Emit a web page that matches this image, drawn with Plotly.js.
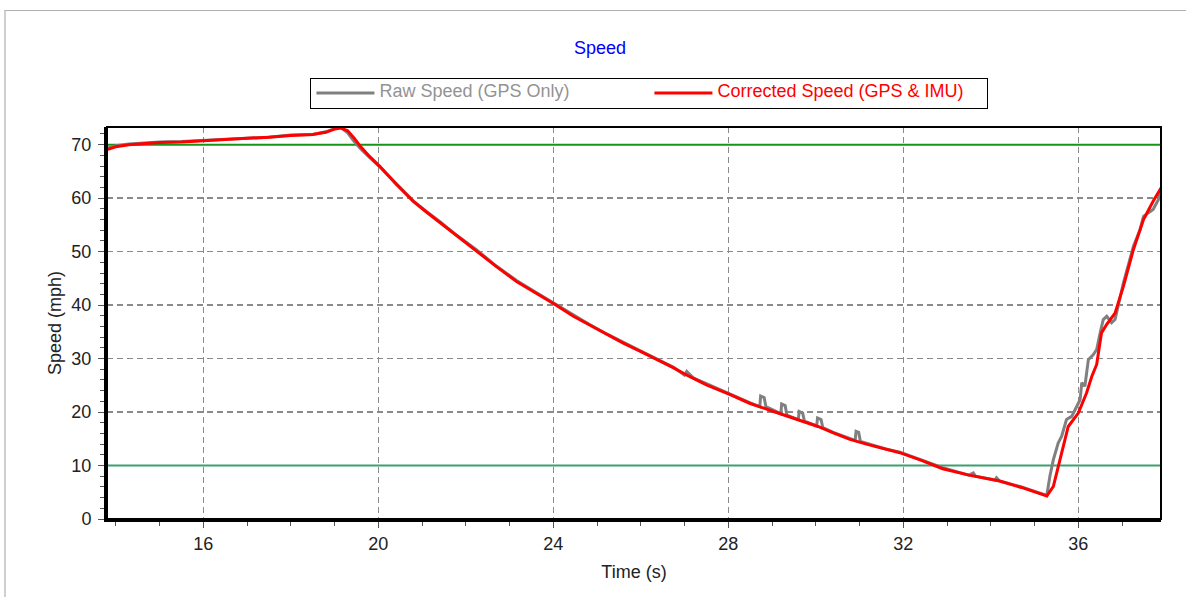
<!DOCTYPE html>
<html>
<head>
<meta charset="utf-8">
<script src="https://cdn.plot.ly/plotly-3.0.1.min.js"></script>
<style>
  html, body { margin: 0; padding: 0; background: #ffffff; }
  #wrap { position: relative; width: 1186px; height: 597px; }
  #chart { width: 1186px; height: 597px; }
  #frame { position: absolute; left: 4px; top: 10px; right: 0; bottom: 0;
           border-left: 2px solid #cfcfcf; border-top: 1px solid #b0b0b0; pointer-events: none; }
</style>
</head>
<body>
<div id="wrap"><div id="chart"></div><div id="frame"></div></div>
<script>
// Corrected speed (GPS & IMU)
const corrTime = [13.80,14.0,14.3,14.7,15.0,15.5,16.0,16.5,17.0,17.5,18.0,18.5,18.8,19.0,19.15,19.3,19.45,19.6,19.8,20.04,
  20.4,20.8,21.1,21.41,21.8,22.25,22.7,23.16,23.6,24.04,24.46,24.8,25.22,25.6,25.98,26.35,26.74,27.1,27.5,28.03,
  28.5,29.0,29.26,29.6,30.05,30.4,30.78,31.2,31.6,31.92,32.4,32.9,33.5,34.2,34.7,35.19,35.28,35.43,35.54,35.66,
  35.77,36.0,36.19,36.31,36.42,36.53,36.65,36.84,37.03,37.26,37.49,37.71,37.89];
const corrSpeed = [69.1,69.6,70.0,70.2,70.4,70.5,70.7,70.9,71.1,71.4,71.7,71.9,72.3,72.9,73.1,72.6,71.2,69.6,67.8,65.9,
  62.7,59.4,57.4,55.4,52.9,50.1,47.2,44.4,42.3,40.1,37.9,36.4,34.5,32.9,31.4,29.9,28.3,26.7,25.1,23.3,
  21.6,20.2,19.5,18.6,17.3,16.1,14.9,13.9,13.0,12.4,11.0,9.4,8.2,7.1,5.9,4.6,4.3,6.1,9.9,13.6,
  17.3,19.8,23.6,26.7,28.9,34.8,36.4,38.5,43.5,50.4,56.0,59.4,61.9];

// Raw speed (GPS only)
const rawTime = [13.80,14.0,14.3,14.7,15.0,15.5,16.0,16.5,17.0,17.5,18.0,18.5,18.8,19.0,19.15,19.3,19.45,19.6,19.8,20.04,
  20.4,20.8,21.1,21.41,21.8,22.25,22.7,23.16,23.6,24.04,24.46,24.8,25.22,25.6,25.98,26.35,26.74,27.0,27.05,27.2,
  27.5,28.03,28.5,28.72,28.74,28.82,28.86,29.2,29.22,29.3,29.34,29.6,29.62,29.7,29.74,30.02,30.04,30.12,30.16,30.4,
  30.9,30.92,30.98,31.02,31.6,31.92,32.4,32.6,32.65,32.9,33.5,33.6,33.65,34.1,34.13,34.2,34.7,35.19,35.28,35.35,
  35.43,35.54,35.62,35.73,35.85,36.04,36.08,36.15,36.23,36.34,36.42,36.5,36.57,36.65,36.76,36.84,36.91,37.03,37.26,37.41,
  37.49,37.6,37.71,37.83,37.89];
const rawSpeed = [69.3,69.8,70.1,70.3,70.5,70.6,70.8,70.9,71.2,71.4,71.8,71.9,72.4,73.0,73.2,72.2,70.6,69.2,67.6,65.8,
  62.8,59.5,57.5,55.6,53.0,50.3,47.3,44.6,42.4,40.2,38.1,36.5,34.6,33.0,31.5,30.0,28.4,26.9,27.6,26.4,
  25.3,23.4,21.7,21.0,23.0,22.7,21.0,19.7,21.5,21.2,19.4,18.6,20.1,19.8,18.3,17.4,18.9,18.6,17.1,16.2,
  14.7,16.4,16.2,14.5,13.1,12.5,11.1,10.6,10.4,9.6,8.2,8.6,8.0,7.3,7.7,7.1,6.0,4.7,4.4,8.0,
  11.1,14.2,15.5,18.6,19.2,22.3,25.5,24.8,29.8,30.7,31.7,34.8,37.3,37.9,36.7,37.3,39.8,44.1,51.0,54.1,
  56.6,57.2,57.9,59.7,61.6];

// Axis ranges and reference (threshold) levels
const timeRange = [13.8, 37.89];
const speedRange = [0, 73.3];
const refLow = 10;
const refHigh = 70;
const xTicks = [16, 20, 24, 28, 32, 36];
const yTicks = [0, 10, 20, 30, 40, 50, 60, 70];

const FONT = '"Liberation Sans", Arial, sans-serif';

const traces = [
  { x: timeRange, y: [refHigh, refHigh], type: 'scatter', mode: 'lines', showlegend: false, hoverinfo: 'skip',
    line: { color: '#149614', width: 2 } },
  { x: timeRange, y: [refLow, refLow], type: 'scatter', mode: 'lines', showlegend: false, hoverinfo: 'skip',
    line: { color: '#3ca06e', width: 2 } },
  { x: rawTime, y: rawSpeed, type: 'scatter', mode: 'lines',
    name: '<span style="color:#939393;font-size:18px">Raw Speed (GPS Only)</span>',
    line: { color: '#808080', width: 3 } },
  { x: corrTime, y: corrSpeed, type: 'scatter', mode: 'lines',
    name: '<span style="color:#ff0000;font-size:18px">Corrected Speed (GPS &amp; IMU)</span>',
    line: { color: '#ff0000', width: 3 } }
];

const gridCommon = { showgrid: true, gridcolor: '#8a8a8a', gridwidth: 1.5, griddash: '6px,4px' };

const layout = {
  width: 1186, height: 597,
  paper_bgcolor: 'rgba(0,0,0,0)', plot_bgcolor: '#ffffff',
  margin: { l: 107, r: 25, t: 127, b: 78 },
  font: { family: FONT, size: 18, color: '#222222' },
  title: { text: 'Speed', font: { family: FONT, size: 18, color: '#0000ff' },
           x: 0.506, xanchor: 'center', xref: 'container', y: 1 - 48/597, yanchor: 'middle', yref: 'container' },
  showlegend: true,
  legend: {
    orientation: 'h', x: 0.193, xanchor: 'left', y: 1.126, yanchor: 'top',
    bordercolor: '#000000', borderwidth: 1, bgcolor: '#ffffff',
    font: { family: FONT, size: 10 },
    itemwidth: 58, entrywidth: 265, entrywidthmode: 'pixels',
    traceorder: 'normal'
  },
  xaxis: Object.assign({}, gridCommon, {
    range: timeRange, tickvals: xTicks, ticktext: xTicks.map(String),
    showline: true, linecolor: '#000000', linewidth: 3, mirror: false, zeroline: false,
    ticks: 'outside', ticklen: 6, tickwidth: 1, tickcolor: '#555555',
    minor: { dtick: 1, tick0: 0, ticks: 'outside', ticklen: 4, tickcolor: '#555555', showgrid: false },
    tickfont: { family: FONT, size: 18, color: '#222222' },
    title: { text: 'Time (s)', font: { family: FONT, size: 18, color: '#222222' }, standoff: 13 }
  }),
  yaxis: Object.assign({}, gridCommon, {
    range: speedRange, tickvals: yTicks, ticktext: yTicks.map(String),
    showline: true, linecolor: '#000000', linewidth: 3, mirror: false, zeroline: false,
    ticks: 'outside', ticklen: 6, tickwidth: 1, tickcolor: '#555555', ticklabelstandoff: 3,
    minor: { dtick: 2, tick0: 0, ticks: 'outside', ticklen: 4, tickcolor: '#555555', showgrid: false },
    tickfont: { family: FONT, size: 18, color: '#222222' },
    title: { text: 'Speed (mph)', font: { family: FONT, size: 18, color: '#222222' }, standoff: 6 }
  }),
  shapes: [
    { type: 'rect', xref: 'x domain', x0: 0, x1: 1, yref: 'y domain', y0: 0, y1: 1,
      line: { color: '#000000', width: 2 }, fillcolor: 'rgba(0,0,0,0)', layer: 'above' }
  ]
};

Plotly.newPlot('chart', traces, layout, { displayModeBar: false, staticPlot: true });
</script>
</body>
</html>
